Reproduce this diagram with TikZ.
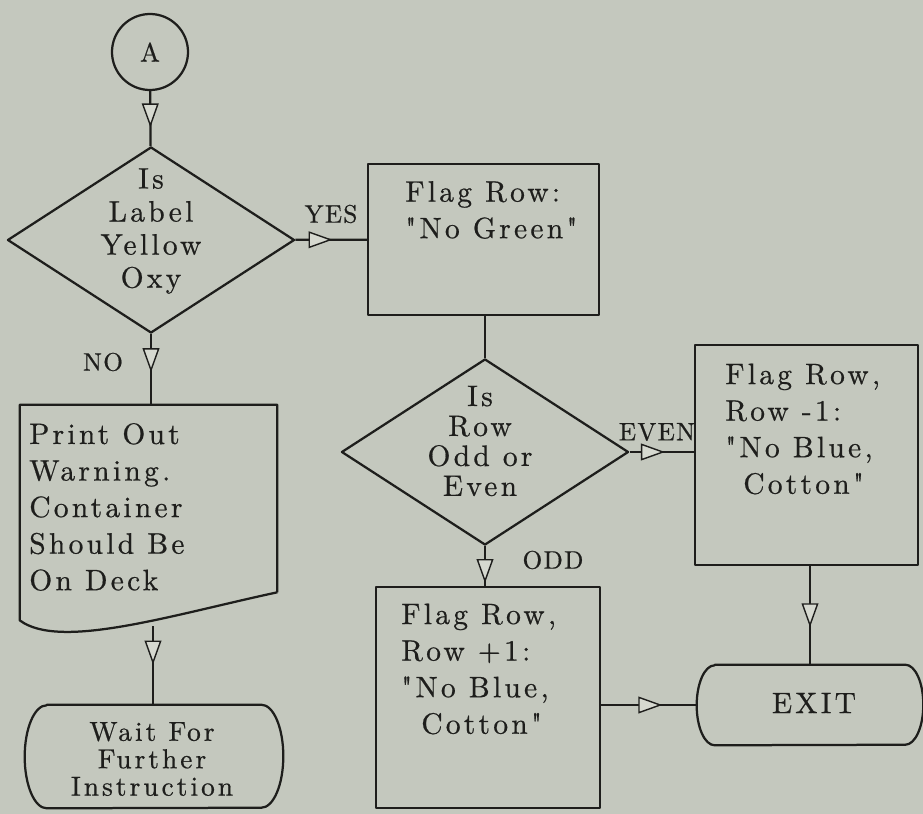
\documentclass[tikz,border=0pt]{standalone}
\usepackage{fontspec}
\usepackage{tikz}
\usetikzlibrary{shapes.geometric,decorations.markings,arrows.meta}
\newfontfamily\flowfont{lmroman10-regular.otf}[LetterSpace=11,FakeBold=0.6]
\newfontfamily\tagfont{lmroman10-regular.otf}[LetterSpace=5,FakeBold=0.6]
\definecolor{paper}{RGB}{196,200,190}
\definecolor{ink}{RGB}{30,30,28}
\definecolor{tipfill}{RGB}{214,217,208}

\begin{document}
\begin{tikzpicture}[x=0.025cm,y=-0.025cm,
  flow/.style={draw=ink,line width=1.6pt,line join=round},
  ring/.style={circle,flow,minimum size=1.9cm,inner sep=0pt,font=\fontsize{19}{20}\flowfont,text=ink},
  decide/.style={diamond,flow,minimum width=7.175cm,minimum height=4.65cm,inner sep=0pt},
  procbox/.style={rectangle,flow,inner sep=0pt},
  frame/.style={rectangle,inner sep=0pt},
  txt/.style={font=\fontsize{21}{26}\flowfont,text=ink,inner sep=0pt},
  tag/.style={font=\fontsize{18}{20}\tagfont,text=ink,inner sep=0pt},
  link/.style={flow,postaction={decorate},decoration={markings,
    mark=at position #1 with {\arrow{Triangle[length=0.6cm,width=0.42cm,fill=tipfill,line width=1pt]}}}}]
  \fill[paper] (0,0) rectangle (923,814);
  \useasboundingbox (0,0) rectangle (923,814);
  % left column
  \node[ring] (start) at (150,52) {A};
  \node[decide] (isyellow) at (151,240) {};
  \node[txt,align=center,font=\fontsize{21}{23.5}\flowfont] (isyellowtxt) at (151,231) {Is\\Label\\Yellow\\Oxy};
  \node[frame,minimum width=6.425cm,minimum height=4.675cm] (warn) at (148.5,498.5) {};
  \draw[flow] (warn.south east) -- (warn.north east) -- (warn.north west)
    -- ([yshift=-0.7cm]warn.south west) .. controls +(40,30) and +(-107,23) .. (warn.south east);
  \node[txt,align=left,anchor=west] (warntxt) at (29,507) {Print Out\\Warning.\\Container\\Should Be\\On Deck};
  \coordinate (warnout) at (153,626);
  \node[frame,minimum width=6.45cm,minimum height=2.575cm] (wait) at (154,756.5) {};
  \draw[flow] ([xshift=0.55cm]wait.north west) -- ([xshift=-0.55cm]wait.north east)
    arc[start angle=90,end angle=-90,x radius=0.55cm,y radius=1.2875cm]
    -- ([xshift=0.55cm]wait.south west)
    arc[start angle=270,end angle=90,x radius=0.55cm,y radius=1.2875cm] -- cycle;
  \node[txt,align=center,font=\fontsize{19.5}{19.5}\flowfont] (waittxt) at (152,759) {Wait For\\Further\\Instruction};
  % middle and right
  \node[procbox,minimum width=5.775cm,minimum height=3.775cm] (nogreen) at (483.5,239.5) {};
  \node[txt,align=left,anchor=west] (nogreentxt) at (405,210) {Flag Row:\\"No Green"};
  \node[decide] (oddeven) at (485,452) {};
  \node[txt,align=center,font=\fontsize{21}{21.3}\flowfont] (oddeventxt) at (480,441) {Is\\Row\\Odd or\\Even};
  \node[procbox,minimum width=5.575cm,minimum height=5.5cm] (minusrow) at (806.5,455) {};
  \node[txt,align=left,anchor=west] (minusrowtxt) at (725,429) {Flag Row,\\Row -1:\\"No Blue,\\\hspace*{0.45cm}Cotton"};
  \node[procbox,minimum width=5.6cm,minimum height=5.525cm] (plusrow) at (488,697.5) {};
  \node[txt,align=left,anchor=west] (plusrowtxt) at (401,669) {Flag Row,\\Row +1:\\"No Blue,\\\hspace*{0.5cm}Cotton"};
  \node[frame,minimum width=5.65cm,minimum height=2cm] (exit) at (810,705) {};
  \draw[flow] ([xshift=0.45cm]exit.north west) -- ([xshift=-0.45cm]exit.north east)
    arc[start angle=90,end angle=-90,x radius=0.45cm,y radius=1cm]
    -- ([xshift=0.45cm]exit.south west)
    arc[start angle=270,end angle=90,x radius=0.45cm,y radius=1cm] -- cycle;
  \node[txt] (exittxt) at (814,703) {EXIT};
  % branch labels
  \node[tag] (yes) at (331,214) {YES};
  \node[tag] (no) at (103,362) {NO};
  \node[tag] (even) at (657,432) {EVEN};
  \node[tag] (odd) at (553,560) {ODD};
  % connectors
  \draw[link=0.66] (start) -- (isyellow);
  \draw[link=0.52] (isyellow) -- (nogreen);
  \draw[link=0.54] (isyellow.south) -- (isyellow.south |- warn.north);
  \draw[link=0.49] (warnout) -- (warnout |- wait.north);
  \draw[flow] (nogreen.south -| oddeven.north) -- (oddeven.north);
  \draw[link=0.55] (oddeven.east) -- (oddeven.east -| minusrow.west);
  \draw[link=0.93] (oddeven.south) -- (oddeven.south |- plusrow.north);
  \draw[link=0.62] (minusrow.south -| exit.north) -- (exit.north);
  \draw[link=0.64] (plusrow.east |- exit.west) -- (exit.west);
\end{tikzpicture}
\end{document}
